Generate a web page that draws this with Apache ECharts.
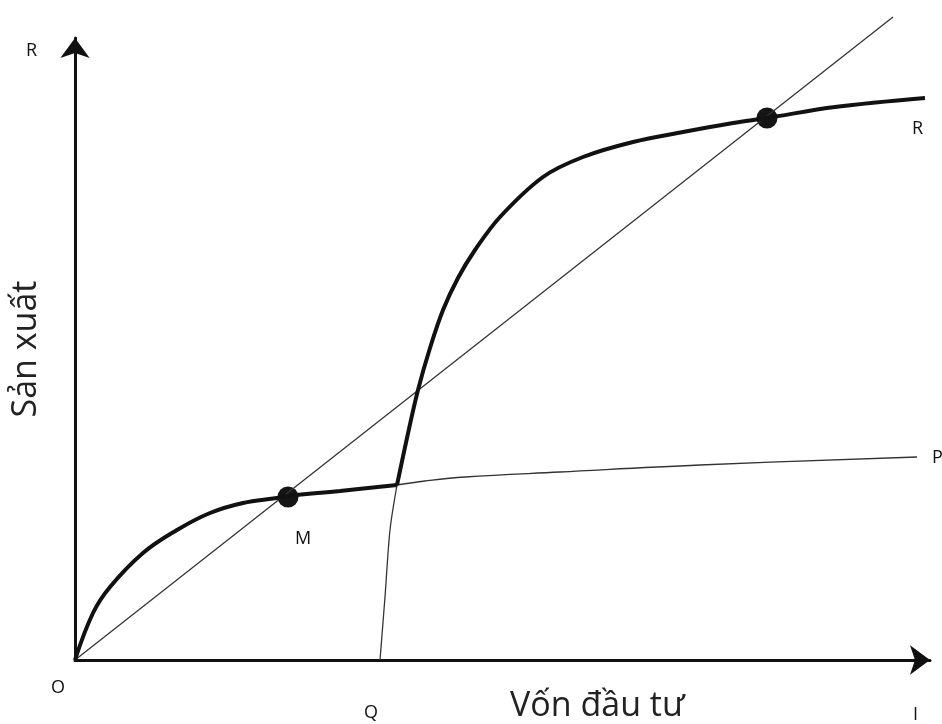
<!DOCTYPE html>
<html>
<head>
<meta charset="utf-8">
<script src="https://cdn.jsdelivr.net/npm/echarts@6/dist/echarts.min.js"></script>
<style>
html,body{margin:0;padding:0;background:#fff;}
#chart{width:942px;height:724px;}
</style>
</head>
<body>
<div id="chart"></div>
<script>
// Conceptual chart: units are arbitrary (investment on x, production on y)
var xMax = 855, yMax = 622;
// thick curve, part 1 (O -> M -> junction)
var curveLow = [[0,0],[18,47],[35,73],[68,107],[102,130],[135,147],[168,157],[202,162],[213,164],[265,169],[322,175]];
// thick curve, part 2 (junction -> R -> end)
var curveHigh = [[322,175],[332,222],[343,270],[355,312],[368,350],[383,382],[400,410],[425,443],[468,483],[508,503],[558,518],[608,528],[658,537],[692,542],[760,553],[850,562]];
// thin P curve
var curveP = [[322,175],[350,179],[390,183],[485,188],[625,195],[842,203]];
// thin Q curve
var curveQ = [[305,0],[310,63],[315,130],[322,175]];
// diagonal ray from origin
var diagonal = [[0,0],[818,643]];
// equilibrium points
var points = [{name:'M', value:[213,163]},{name:'R', value:[692,542]}];

var chart = echarts.init(document.getElementById('chart'));
chart.setOption({
  animation:false,
  backgroundColor:'#fff',
  grid:{left:75, top:38, right:12, bottom:64},
  xAxis:{type:'value', min:0, max:xMax, splitLine:{show:false}, axisTick:{show:false}, axisLabel:{show:false},
    axisLine:{lineStyle:{color:'#111', width:3}, symbol:['none','arrow'], symbolSize:[22,20]}},
  yAxis:{type:'value', min:0, max:yMax, splitLine:{show:false}, axisTick:{show:false}, axisLabel:{show:false},
    name:'Sản xuất', nameLocation:'middle', nameGap:32, nameRotate:90,
    nameTextStyle:{fontFamily:'Open Sans', fontSize:34, color:'#222'},
    axisLine:{lineStyle:{color:'#111', width:3}, symbol:['none','arrow'], symbolSize:[22,20]}},
  series:[
    {type:'line', data:diagonal, symbol:'none', clip:false, lineStyle:{color:'#333', width:1.3}},
    {type:'line', data:curveP, symbol:'none', smooth:0.4, lineStyle:{color:'#333', width:1.3}},
    {type:'line', data:curveQ, symbol:'none', smooth:0.3, lineStyle:{color:'#333', width:1.3}},
    {type:'line', data:curveLow, symbol:'none', smooth:0.4, lineStyle:{color:'#111', width:4}},
    {type:'line', data:curveHigh, symbol:'none', smooth:0.35, lineStyle:{color:'#111', width:4}},
    {type:'scatter', data:points, symbol:'circle', symbolSize:21, itemStyle:{color:'#151515', opacity:1},
      label:{show:true, formatter:function(p){return p.name==='M'?'M':'';}, position:'bottom', distance:18, offset:[15,4],
        fontFamily:'Open Sans', fontSize:18, color:'#111'}}
  ],
  graphic:[
    {type:'text', left:26, top:42, style:{text:'R', font:'18px "Open Sans"', fill:'#111'}},
    {type:'text', left:912, top:120, style:{text:'R', font:'18px "Open Sans"', fill:'#111'}},
    {type:'text', left:932, top:449, style:{text:'P', font:'18px "Open Sans"', fill:'#111'}},
    {type:'text', left:51, top:679, style:{text:'O', font:'18px "Open Sans"', fill:'#111'}},
    {type:'text', left:364, top:704, style:{text:'Q', font:'18px "Open Sans"', fill:'#111'}},
    {type:'text', left:913, top:706, style:{text:'I', font:'18px "Open Sans"', fill:'#111'}},
    {type:'text', left:510, top:689, style:{text:'Vốn đầu tư', font:'34px "Open Sans"', fill:'#222'}}
  ]
});
</script>
</body>
</html>
